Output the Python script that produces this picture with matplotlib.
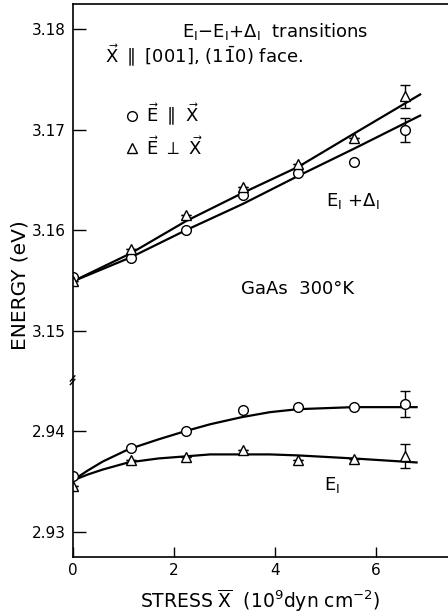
import numpy as np
import matplotlib
matplotlib.use("Agg")
import matplotlib.pyplot as plt
from matplotlib.lines import Line2D

# E1 + delta1 data (upper panel)
stress = [0.0, 1.15, 2.24, 3.36, 4.46, 5.56, 6.57]
upper_par = [3.1553, 3.1572, 3.1600, 3.1635, 3.1657, 3.1668, 3.1700]
upper_perp = [3.1549, 3.1581, 3.1615, 3.1643, 3.1666, 3.1692, 3.1733]
upper_par_err = [0, 0, 0, 0, 0, 0, 0.0012]
upper_perp_err = [0, 0, 0, 0, 0, 0, 0.0011]

# E1 data (lower panel)
lower_par = [2.9356, 2.9383, 2.9400, 2.9421, 2.9424, 2.9424, 2.9427]
lower_perp = [2.9346, 2.9371, 2.9374, 2.9381, 2.9371, 2.9372, 2.9375]
lower_par_err = [0, 0, 0, 0, 0, 0, 0.0013]
lower_perp_err = [0, 0, 0, 0, 0, 0, 0.0012]

# fitted curves
curve_x = [0.0, 1.15, 2.24, 3.36, 4.46, 5.56, 6.87]
fit_upper_perp = [3.1549, 3.1577, 3.1609, 3.1637, 3.1663, 3.1696, 3.1735]
fit_upper_par = [3.1549, 3.1573, 3.1600, 3.1626, 3.1654, 3.1681, 3.1714]

curve_x2 = [0.0, 0.3, 0.6, 1.1, 1.7, 2.22, 2.72, 3.34, 3.9, 4.46, 5.55, 6.8]
fit_lower_par = [2.9351, 2.9361, 2.9370, 2.9382, 2.9392, 2.9400, 2.9407,
                 2.9414, 2.9419, 2.9422, 2.9424, 2.9424]
fit_lower_perp = [2.9351, 2.9357, 2.9362, 2.9369, 2.9373, 2.9375, 2.9377,
                  2.9377, 2.9377, 2.9376, 2.9373, 2.9369]

upper_ticks = [3.15, 3.16, 3.17, 3.18]
lower_ticks = [2.93, 2.94]
x_ticks = [0, 2, 4, 6]

plt.rcParams['font.family'] = 'DejaVu Sans'
plt.rcParams['mathtext.fontset'] = 'dejavusans'

fig = plt.figure(figsize=(4.48, 6.16), dpi=100)
L, R = 0.162, 1.0
brk = 1 - 382 / 616
top = 1 - 4 / 616
bot = 1 - 557 / 616
ax1 = fig.add_axes([L, brk, R - L, top - brk])
ax2 = fig.add_axes([L, bot, R - L, brk - bot])

mk = dict(color='black', mfc='white', mec='black', ms=7, mew=1.0,
          ls='none', capsize=3.5, elinewidth=1.0, capthick=1.0)

ax1.plot(curve_x, fit_upper_perp, color='black', lw=1.6)
ax1.plot(curve_x, fit_upper_par, color='black', lw=1.6)
ax1.errorbar(stress, upper_par, yerr=upper_par_err, marker='o', **mk)
ax1.errorbar(stress, upper_perp, yerr=upper_perp_err, marker='^', **mk)

ax2.plot(curve_x2, fit_lower_par, color='black', lw=1.6)
ax2.plot(curve_x2, fit_lower_perp, color='black', lw=1.6)
ax2.errorbar(stress, lower_par, yerr=lower_par_err, marker='o', **mk)
ax2.errorbar(stress, lower_perp, yerr=lower_perp_err, marker='^', **mk)

xmax = (448 - 72.5) / 50.6
for ax in (ax1, ax2):
    ax.set_xlim(0, xmax)
    ax.spines['right'].set_visible(False)
    ax.tick_params(direction='in', length=9, width=1, labelsize=11, pad=5)
    for s in ax.spines.values():
        s.set_linewidth(1.2)

ax1.set_ylim(3.1449, 3.1825)
ax1.set_yticks(upper_ticks)
ax1.set_yticklabels(['3.15', '3.16', '3.17', '3.18'])
ax1.spines['bottom'].set_visible(False)
ax1.set_xticks([])

ax2.set_ylim(2.9275, 2.9449)
ax2.set_yticks(lower_ticks)
ax2.set_yticklabels(['2.93', '2.94'])
ax2.spines['top'].set_visible(False)
ax2.set_xticks(x_ticks)
ax2.tick_params(axis='x', length=7, pad=4)
ax2.set_xlabel(r'STRESS $\overline{\mathrm{X}}$  (10$^{9}$dyn cm$^{-2}$)',
               fontsize=13.5, labelpad=7)

# axis break marks
ax2.plot([-0.006, 0.006], [0.985, 1.015], transform=ax2.transAxes, color='black',
         lw=1, clip_on=False)
ax2.plot([-0.006, 0.006], [1.005, 1.035], transform=ax2.transAxes, color='black',
         lw=1, clip_on=False)

fig.text(0.045, 0.537, 'ENERGY (eV)', rotation=90, ha='center', va='center',
         fontsize=14.5)

fs = 13
ax1.text(0.54, 0.926, r'E$_\mathrm{I}$$-$E$_\mathrm{I}$+$\Delta_\mathrm{I}$  transitions',
         transform=ax1.transAxes, ha='center', va='center', fontsize=fs)
ax1.text(0.087, 0.862, r'$\vec{\mathrm{X}}$ $\parallel$ [001], (1$\bar{\mathrm{1}}$0) face.',
         transform=ax1.transAxes, ha='left', va='center', fontsize=fs)
ax1.text(0.745, 0.48, r'E$_\mathrm{I}$ +$\Delta_\mathrm{I}$', transform=ax1.transAxes,
         ha='center', va='center', fontsize=fs)
ax1.text(0.60, 0.246, 'GaAs  300°K', transform=ax1.transAxes, ha='center',
         va='center', fontsize=fs)
ax2.text(0.69, 0.41, r'E$_\mathrm{I}$', transform=ax2.transAxes, ha='center',
         va='center', fontsize=fs)

handles = [Line2D([], [], ls='none', marker='o', mfc='white', mec='black', ms=7),
           Line2D([], [], ls='none', marker='^', mfc='white', mec='black', ms=7)]
ax1.legend(handles, [r'$\vec{\mathrm{E}}\ \parallel\ \vec{\mathrm{X}}$',
                     r'$\vec{\mathrm{E}}\ \perp\ \vec{\mathrm{X}}$'],
           loc='upper left', bbox_to_anchor=(0.09, 0.785), frameon=False,
           fontsize=fs, handletextpad=0.3, handlelength=1.0, labelspacing=0.45)

fig.savefig('out.png', dpi=100)
